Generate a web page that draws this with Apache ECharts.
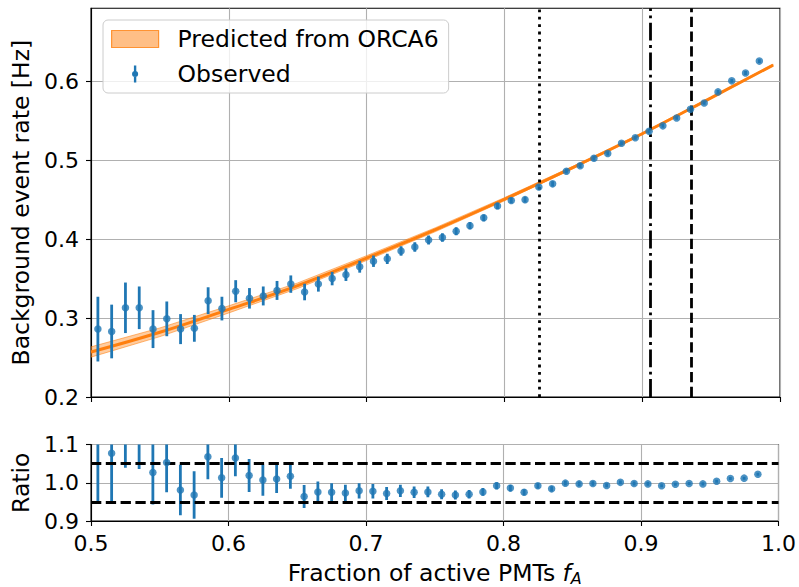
<!DOCTYPE html>
<html><head><meta charset="utf-8">
<script src="https://cdn.jsdelivr.net/npm/echarts@6/dist/echarts.min.js"></script>
<style>html,body{margin:0;padding:0;background:#fff}#c{width:799px;height:587px}</style>
</head><body><div id="c"></div>
<script>
// ---- data ----
const fA = [0.505,0.515,0.525,0.535,0.545,0.555,0.565,0.575,0.585,0.595,
            0.605,0.615,0.625,0.635,0.645,0.655,0.665,0.675,0.685,0.695,
            0.705,0.715,0.725,0.735,0.745,0.755,0.765,0.775,0.785,0.795,
            0.805,0.815,0.825,0.835,0.845,0.855,0.865,0.875,0.885,0.895,
            0.905,0.915,0.925,0.935,0.945,0.955,0.965,0.975,0.985];
const observed = [0.286,0.283,0.313,0.313,0.286,0.299,0.286,0.287,0.322,0.312,
                  0.334,0.325,0.328,0.335,0.343,0.333,0.343,0.350,0.355,0.365,
                  0.372,0.375,0.385,0.390,0.399,0.402,0.410,0.417,0.427,0.442,
                  0.449,0.450,0.466,0.470,0.486,0.493,0.5025,0.5085,0.5215,0.5285,
                  0.5365,0.5435,0.5535,0.5645,0.5725,0.5865,0.6005,0.6105,0.6255];
const observedErr = [0.041,0.034,0.032,0.027,0.024,0.022,0.019,0.017,0.017,0.015,
                     0.014,0.013,0.012,0.012,0.011,0.0105,0.0095,0.0085,0.008,0.0075,
                     0.0072,0.0065,0.006,0.006,0.0057,0.0054,0.005,0.0046,0.0043,0.004,
                     0.0036,0.0036,0.0033,0.0033,0.003,0.003,0.003,0.0026,0.0026,0.0026,
                     0.0026,0.0023,0.0023,0.0023,0.0023,0.0023,0.0023,0.0025,0.0025];
const ratio = [1.105,1.077,1.156,1.133,1.027,1.053,0.981,0.968,1.068,1.013,
               1.065,1.019,1.007,1.010,1.017,0.964,0.976,0.975,0.973,0.979,
               0.978,0.972,0.979,0.975,0.976,0.970,0.968,0.970,0.976,0.992,
               0.986,0.975,0.992,0.984,0.999,0.997,0.998,0.993,1.001,0.998,
               0.997,0.992,0.996,0.998,0.997,1.004,1.011,1.012,1.022];
const ratioErr = [0.155,0.127,0.117,0.097,0.084,0.078,0.066,0.062,0.059,0.052,
                  0.048,0.043,0.041,0.037,0.033,0.030,0.027,0.024,0.022,0.020,
                  0.019,0.017,0.016,0.015,0.014,0.013,0.012,0.011,0.010,0.009,
                  0.008,0.008,0.007,0.007,0.006,0.006,0.006,0.005,0.005,0.005,
                  0.005,0.004,0.004,0.004,0.004,0.004,0.004,0.004,0.004];
const predX = [0.5,0.55,0.6,0.65,0.7,0.75,0.8,0.85,0.9,0.95,0.995];
const predY = [0.257,0.282,0.311,0.341,0.376,0.412,0.4505,0.491,0.5335,0.579,0.6205];
const predHalfWidth = [0.0065,0.0055,0.0045,0.0035,0.003,0.0025,0.002,0.0015,0.0012,0.001,0.001];
const thresholds = [0.8255, 0.906, 0.9355];   // dotted, dash-dot, dashed
const ratioBand = [0.95, 1.05];
const xTicks = [0.5,0.6,0.7,0.8,0.9,1.0];
const yTicksTop = [0.2,0.3,0.4,0.5,0.6];
const yTicksRatio = [0.9,1.0,1.1];
const seriesNames = ['Predicted from ORCA6','Observed'];

// ---- styling ----
const FONT = 'DejaVu Sans';
const BLUE = '#1f77b4', ORANGE = '#ff7f0e';
const LW = 2.8;
const TFS = 23.5;   // title / legend font size
const KFS = 22;     // tick label font size

function errRender(params, api) {
  const x = api.value(0), y = api.value(1), e = api.value(2);
  const p1 = api.coord([x, y - e]), p2 = api.coord([x, y + e]);
  return {type:'line', shape:{x1:p1[0],y1:p1[1],x2:p2[0],y2:p2[1]},
          style:{stroke:BLUE, lineWidth:LW}};
}
function bandRender(params, api) {
  if (params.dataIndex !== 0) return null;
  const pts = [];
  for (let i = 0; i < predX.length; i++) pts.push(api.coord([predX[i], predY[i] + predHalfWidth[i]]));
  for (let i = predX.length - 1; i >= 0; i--) pts.push(api.coord([predX[i], predY[i] - predHalfWidth[i]]));
  return {type:'polygon', shape:{points:pts},
          style:{fill:'rgba(255,127,14,0.4)', stroke:'rgba(255,127,14,0.55)', lineWidth:1}};
}

const axisLabelStyle = {fontFamily:FONT, fontSize:KFS, color:'#000'};
const splitLine = {show:true, lineStyle:{color:'#b0b0b0', width:1.1}};
const axisLine = {show:true, onZero:false, lineStyle:{color:'#000', width:1.1}};
const axisTick = {show:true, inside:false, length:5, lineStyle:{color:'#000', width:1.1}};
const fmt1 = v => v.toFixed(1);

const chart = echarts.init(document.getElementById('c'), null, {renderer:'svg'});
chart.setOption({
  animation:false,
  backgroundColor:'#fff',
  grid:[
    {left:91, top:8.3, width:689, height:388.7, show:true, borderColor:'#000', borderWidth:1.1, backgroundColor:'transparent'},
    {left:91, top:444.5, width:689, height:77.3, show:true, borderColor:'#000', borderWidth:1.1, backgroundColor:'transparent'}
  ],
  xAxis:[
    {type:'value', gridIndex:0, min:0.5, max:1.0, interval:0.1,
     axisLine, axisTick, splitLine, axisLabel:{show:false}},
    {type:'value', gridIndex:1, min:0.5, max:1.0, interval:0.1,
     axisLine, axisTick, splitLine,
     axisLabel:Object.assign({formatter:fmt1, margin:11, customValues:xTicks}, axisLabelStyle),
     name:'Fraction of active PMTs {i|f}{s|A}', nameLocation:'middle', nameGap:39,
     nameTextStyle:{fontFamily:FONT, fontSize:TFS, color:'#000',
       rich:{i:{fontFamily:FONT, fontSize:TFS, fontStyle:'italic', color:'#000'},
             s:{fontFamily:FONT, fontSize:16, fontStyle:'italic', color:'#000', padding:[10,0,0,0]}}}}
  ],
  yAxis:[
    {type:'value', gridIndex:0, min:0.2, max:0.6924, interval:0.1,
     axisLine, axisTick:Object.assign({customValues:yTicksTop}, axisTick), splitLine,
     axisLabel:Object.assign({formatter:fmt1, margin:12, customValues:yTicksTop}, axisLabelStyle),
     name:'Background event rate [Hz]', nameLocation:'middle', nameGap:55,
     nameTextStyle:{fontFamily:FONT, fontSize:TFS, color:'#000'}},
    {type:'value', gridIndex:1, min:0.9, max:1.1, interval:0.1,
     axisLine, axisTick:Object.assign({customValues:yTicksRatio}, axisTick), splitLine,
     axisLabel:Object.assign({formatter:fmt1, margin:12, customValues:yTicksRatio}, axisLabelStyle),
     name:'Ratio', nameLocation:'middle', nameGap:55,
     nameTextStyle:{fontFamily:FONT, fontSize:TFS, color:'#000'}}
  ],
  legend:{
    orient:'vertical', left:103, top:20, selectedMode:false,
    data:[
      {name:seriesNames[0], icon:'rect',
       itemStyle:{color:'rgba(255,127,14,0.5)', borderColor:'rgba(255,127,14,0.8)', borderWidth:1.2}},
      {name:seriesNames[1],
       icon:'path://M-1.4,-10 L1.4,-10 L1.4,10 L-1.4,10 Z M-3.6,0 A3.6,3.6 0 1 1 3.6,0 A3.6,3.6 0 1 1 -3.6,0 Z',
       itemStyle:{color:BLUE}}
    ],
    itemWidth:47, itemHeight:17, itemGap:11,
    padding:[7,10,7,8],
    backgroundColor:'rgba(255,255,255,0.8)', borderColor:'#cccccc', borderWidth:1, borderRadius:5,
    textStyle:{fontFamily:FONT, fontSize:TFS, color:'#000', padding:[0,0,0,14]}
  },
  series:[
    {name:seriesNames[0], type:'custom', xAxisIndex:0, yAxisIndex:0, clip:true, z:2,
     itemStyle:{color:'rgba(255,127,14,0.5)'},
     renderItem:bandRender, data:predX.map((x,i)=>[x, predY[i]]), encode:{x:0,y:1}},
    {name:'prediction', type:'line', xAxisIndex:0, yAxisIndex:0, clip:true, z:3,
     data:predX.map((x,i)=>[x, predY[i]]), smooth:0.4, symbol:'none',
     lineStyle:{color:ORANGE, width:3}},
    {name:'thresholds', type:'line', xAxisIndex:0, yAxisIndex:0, data:[], z:1,
     markLine:{silent:true, symbol:'none', precision:5, label:{show:false},
       data:[
         {xAxis:thresholds[0], lineStyle:{color:'#000', width:LW, type:[2.8,4.6]}},
         {xAxis:thresholds[1], lineStyle:{color:'#000', width:LW, type:[17.9,4.5,2.8,4.5]}},
         {xAxis:thresholds[2], lineStyle:{color:'#000', width:LW, type:[10.3,4.5]}}
       ]}},
    {name:seriesNames[1], type:'custom', xAxisIndex:0, yAxisIndex:0, clip:true, z:4,
     itemStyle:{color:BLUE},
     renderItem:errRender, data:fA.map((x,i)=>[x, observed[i], observedErr[i]]), encode:{x:0,y:1}},
    {name:seriesNames[1], type:'scatter', xAxisIndex:0, yAxisIndex:0, clip:true, z:5,
     symbol:'circle', symbolSize:7.5, itemStyle:{color:BLUE},
     data:fA.map((x,i)=>[x, observed[i]])},
    {name:'ratioLines', type:'line', xAxisIndex:1, yAxisIndex:1, data:[], z:1,
     markLine:{silent:true, symbol:'none', precision:5, label:{show:false},
       lineStyle:{color:'#000', width:LW, type:[10.3,4.5]},
       data:[{yAxis:ratioBand[0]},{yAxis:ratioBand[1]}]}},
    {name:'ratioErr', type:'custom', xAxisIndex:1, yAxisIndex:1, clip:true, z:4,
     renderItem:errRender, data:fA.map((x,i)=>[x, ratio[i], ratioErr[i]]), encode:{x:0,y:1}},
    {name:'ratio', type:'scatter', xAxisIndex:1, yAxisIndex:1, clip:true, z:5,
     symbol:'circle', symbolSize:7.5, itemStyle:{color:BLUE},
     data:fA.map((x,i)=>[x, ratio[i]])}
  ]
});
</script>
</body></html>
